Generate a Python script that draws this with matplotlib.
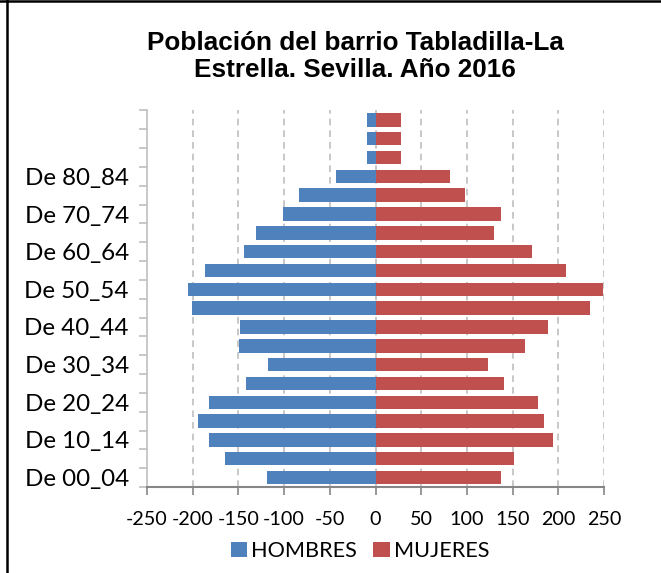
import matplotlib
matplotlib.use("Agg")
import matplotlib.pyplot as plt
import matplotlib.transforms as mtransforms
import numpy as np
from matplotlib.lines import Line2D

categories = ["De 00_04", "De 05_09", "De 10_14", "De 15_19", "De 20_24",
              "De 25_29", "De 30_34", "De 35_39", "De 40_44", "De 45_49",
              "De 50_54", "De 55_59", "De 60_64", "De 65_69", "De 70_74",
              "De 75_79", "De 80_84", "", "", ""]
hombres = [-119, -165, -182, -194, -182, -142, -118, -149, -148, -201,
           -205, -187, -144, -131, -101, -84, -43, -9, -9, -9]
mujeres = [137, 152, 194, 184, 178, 141, 123, 164, 189, 235,
           249, 208, 171, 130, 137, 98, 81, 28, 28, 28]
xticks = [-250, -200, -150, -100, -50, 0, 50, 100, 150, 200, 250]
title = "Población del barrio Tabladilla-La\nEstrella. Sevilla. Año 2016"

W, H = 661, 573
fig = plt.figure(figsize=(W / 100, H / 100), dpi=100)
ax = fig.add_axes([147 / W, 86 / H, 457 / W, 376.5 / H])

y = np.arange(len(categories))
blue = "#4F81BD"
red = "#C0504D"
ax.barh(y, hombres, height=0.714, color=blue, label="HOMBRES", zorder=3)
ax.barh(y, mujeres, height=0.714, color=red, label="MUJERES", zorder=3)

ax.set_xlim(-250, 250)
ax.set_ylim(-0.5, len(categories) - 0.5)
ax.set_xticks(xticks)
ax.set_xticklabels([str(v) for v in xticks], fontsize=14.2, family="Lato")
for v, lab in zip(xticks, ax.get_xticklabels()):
    dx = -17 * (v + 250) / 500 / 100
    lab.set_transform(lab.get_transform() +
                      mtransforms.ScaledTranslation(dx, 0, fig.dpi_scale_trans))
for v in xticks[1:]:
    ax.axvline(v, color="#BFBFBF", lw=1.2, ls=(0, (4, 3)), zorder=1)

major = [i for i in range(0, len(categories), 2) if categories[i]]
ax.set_yticks(major)
ax.set_yticklabels([categories[i] for i in major], fontsize=17.4, family="Lato")
ax.set_yticks(np.arange(-0.5, len(categories), 1.0), minor=True)
ax.tick_params(axis="y", which="major", length=0, pad=13)
ax.tick_params(axis="y", which="minor", length=6, color="#BFBFBF", width=1.2)
ax.tick_params(axis="x", length=6, color="#868686", width=1.2, pad=11.5)

for s in ["top", "right"]:
    ax.spines[s].set_visible(False)
ax.spines["left"].set_color("#BFBFBF")
ax.spines["left"].set_linewidth(1.2)
ax.spines["bottom"].set_color("#868686")
ax.spines["bottom"].set_linewidth(1.5)

fig.text(355 / W, 1 - 31 / H, title, ha="center", va="top", fontsize=18.8,
         fontweight="bold", family="Liberation Sans", linespacing=1.15)

leg = fig.legend(loc="center", bbox_to_anchor=(360 / W, 1 - 551 / H), ncol=2,
                 frameon=False, prop={"family": "Lato", "size": 15.6},
                 handlelength=0.75, handleheight=0.75, handletextpad=0.2,
                 columnspacing=0.75)

fig.add_artist(Line2D([6.5 / W, 6.5 / W], [0, 1], transform=fig.transFigure,
                      color="black", lw=1.8))
fig.add_artist(Line2D([0, 1], [1 - 1 / H, 1 - 1 / H], transform=fig.transFigure,
                      color="black", lw=1.8))

fig.savefig("out.png", dpi=100)
